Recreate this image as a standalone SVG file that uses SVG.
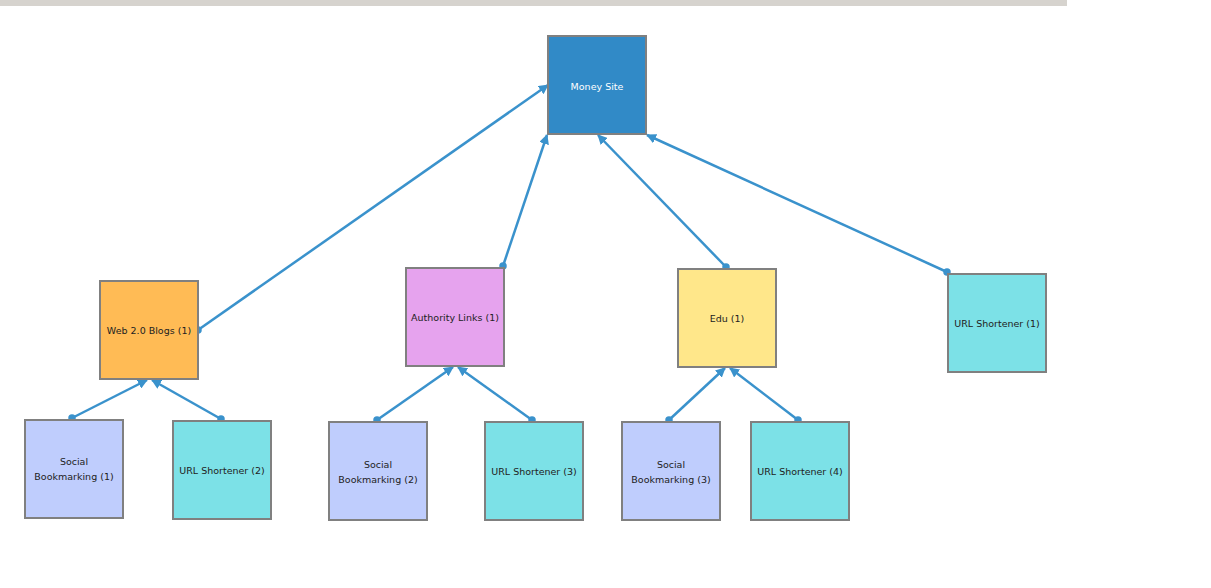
<svg xmlns="http://www.w3.org/2000/svg" width="1211" height="588" viewBox="0 0 1211 588">
<defs>
<marker id="arr" viewBox="0 0 10 10" refX="9" refY="5" markerWidth="4" markerHeight="4" orient="auto" markerUnits="strokeWidth"><path d="M0,0 L10,5 L0,10 z" fill="#3a92cc"/></marker>
<marker id="dot" viewBox="0 0 10 10" refX="5" refY="5" markerWidth="3" markerHeight="3" markerUnits="strokeWidth"><circle cx="5" cy="5" r="5" fill="#3a92cc"/></marker>
<style>
.n{stroke:#808080;stroke-width:2}
.t{font-family:"DejaVu Sans",sans-serif;font-size:9.5px;text-anchor:middle;fill:#222}
.c line{stroke:#3a92cc;stroke-width:2.5;marker-start:url(#dot);marker-end:url(#arr)}
</style>
</defs>
<rect width="1211" height="588" fill="#fff"/>
<rect x="0" y="0" width="1067" height="6" fill="#d6d3ce"/>
<g class="c" id="connectors">
<line x1="198" y1="330" x2="548" y2="85"/>
<line x1="503" y1="266" x2="547" y2="135"/>
<line x1="726" y1="267" x2="598" y2="135"/>
<line x1="947" y1="272" x2="647" y2="135"/>
<line x1="72" y1="418" x2="147" y2="380"/>
<line x1="221" y1="419" x2="152" y2="380"/>
<line x1="377" y1="420" x2="453" y2="367"/>
<line x1="532" y1="420" x2="458" y2="367"/>
<line x1="669" y1="420" x2="725" y2="368"/>
<line x1="798" y1="420" x2="730" y2="368"/>
</g>
<g id="money"><rect class="n" x="548" y="36" width="98" height="98" fill="#318ac7"/><text class="t" x="597" y="90" fill="#fff" style="fill:#fff">Money Site</text></g>
<g id="web20"><rect class="n" x="100" y="281" width="98" height="98" fill="#ffbb55"/><text class="t" x="149" y="334">Web 2.0 Blogs (1)</text></g>
<g id="authority"><rect class="n" x="406" y="268" width="98" height="98" fill="#e6a3ee"/><text class="t" x="455" y="321">Authority Links (1)</text></g>
<g id="edu"><rect class="n" x="678" y="269" width="98" height="98" fill="#ffe78a"/><text class="t" x="727" y="322">Edu (1)</text></g>
<g id="url1"><rect class="n" x="948" y="274" width="98" height="98" fill="#7ce1e7"/><text class="t" x="997" y="327">URL Shortener (1)</text></g>
<g id="sb1"><rect class="n" x="25" y="420" width="98" height="98" fill="#bfcdfd"/><text class="t" x="74" y="465">Social</text><text class="t" x="74" y="480">Bookmarking (1)</text></g>
<g id="url2"><rect class="n" x="173" y="421" width="98" height="98" fill="#7ce1e7"/><text class="t" x="222" y="474">URL Shortener (2)</text></g>
<g id="sb2"><rect class="n" x="329" y="422" width="98" height="98" fill="#bfcdfd"/><text class="t" x="378" y="468">Social</text><text class="t" x="378" y="483">Bookmarking (2)</text></g>
<g id="url3"><rect class="n" x="485" y="422" width="98" height="98" fill="#7ce1e7"/><text class="t" x="534" y="475">URL Shortener (3)</text></g>
<g id="sb3"><rect class="n" x="622" y="422" width="98" height="98" fill="#bfcdfd"/><text class="t" x="671" y="468">Social</text><text class="t" x="671" y="483">Bookmarking (3)</text></g>
<g id="url4"><rect class="n" x="751" y="422" width="98" height="98" fill="#7ce1e7"/><text class="t" x="800" y="475">URL Shortener (4)</text></g>
</svg>
